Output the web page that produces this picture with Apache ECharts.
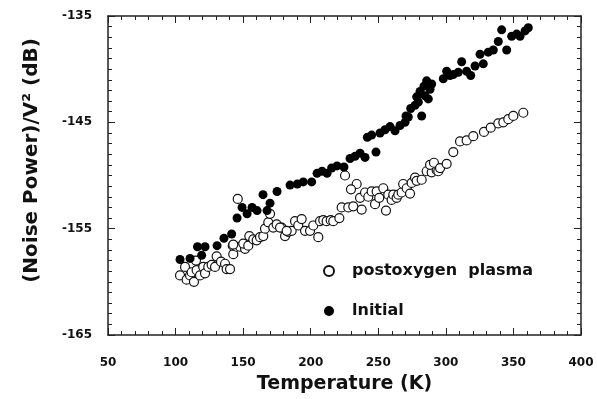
<!DOCTYPE html>
<html>
<head>
<meta charset="utf-8">
<script src="https://cdn.jsdelivr.net/npm/echarts@6/dist/echarts.min.js"></script>
<style>
  html, body { margin: 0; padding: 0; background: #fff; }
  #main { width: 597px; height: 399px; }
</style>
</head>
<body>
<div id="main"></div>
<script>
  // 数据：温度 (K) 与噪声功率 (dB)
  var initialT = [103.3,110.7,116.2,121.8,119.3,130.7,135.8,141.5,145.5,149.2,
    152.9,156.6,160.3,164.7,167.7,169.9,175.1,184.7,190.1,194.5,
    200.7,204.7,208.4,212.1,215.5,219.5,224.6,229.1,232.8,236.5,
    240.2,241.9,245.1,248.3,251.3,255.0,258.7,262.4,266.1,269.8,
    270.5,272.2,274.0,277.2,278.4,279.6,280.9,282.1,283.8,284.6,
    285.8,287.0,288.3,289.5,298.1,300.6,303.1,305.5,309.2,311.7,
    315.4,318.4,321.6,325.3,327.7,331.4,335.1,338.8,341.3,345.0,
    348.7,352.4,354.9,358.6,361.0];
  var initialDb = [-157.9,-157.8,-156.7,-156.7,-157.5,-156.6,-155.9,-155.5,-154.0,-153.0,
    -153.6,-153.0,-153.3,-151.8,-153.3,-152.6,-151.5,-150.9,-150.8,-150.6,
    -150.6,-149.8,-149.6,-149.8,-149.3,-149.1,-149.2,-148.4,-148.2,-147.9,
    -148.3,-146.4,-146.2,-147.8,-146.0,-145.7,-145.4,-145.8,-145.3,-145.0,
    -144.4,-144.5,-143.7,-143.4,-142.6,-143.1,-142.1,-144.4,-141.6,-142.5,
    -141.1,-142.8,-141.9,-141.4,-140.9,-140.2,-140.6,-140.5,-140.3,-139.3,
    -140.2,-140.6,-139.7,-138.6,-139.5,-138.4,-138.2,-137.4,-136.3,-138.2,
    -136.9,-136.7,-136.9,-136.4,-136.1];

  var postT = [103.3,107.0,108.2,110.7,113.6,111.9,115.1,115.6,118.1,120.5,
    121.8,124.2,126.7,130.4,129.2,133.6,136.6,137.8,140.3,142.7,
    142.3,145.2,147.7,151.4,150.1,154.6,153.8,157.5,160.0,162.5,
    164.9,166.2,168.6,169.9,172.3,174.8,178.5,181.0,183.4,185.9,
    188.4,190.8,193.3,195.8,199.5,201.9,205.6,206.9,209.3,211.8,
    214.8,216.7,221.2,222.9,227.8,231.5,237.7,234.0,229.8,225.4,
    236.5,240.2,242.6,245.1,247.6,248.8,250.7,253.7,255.7,257.4,
    259.9,261.1,263.6,264.8,267.3,268.4,271.0,273.5,274.7,277.2,
    278.4,282.1,285.8,289.5,293.2,288.3,291.2,294.4,295.7,300.6,
    305.5,310.5,315.4,320.3,328.2,333.2,338.8,342.5,346.2,349.9,
    357.3,146.0,142.7,177.3,182.2];
  var postDb = [-159.4,-158.6,-159.8,-159.4,-160.0,-159.1,-158.0,-158.9,-159.4,-158.6,
    -159.2,-158.6,-158.4,-157.6,-158.6,-158.1,-158.3,-158.8,-158.8,-157.4,
    -156.6,-156.7,-156.7,-156.9,-156.4,-155.7,-156.6,-156.0,-156.1,-155.8,
    -155.7,-155.0,-154.4,-153.6,-154.9,-154.6,-154.9,-155.7,-155.3,-155.2,
    -154.3,-154.7,-154.1,-155.2,-155.2,-154.7,-155.8,-154.3,-154.2,-154.3,
    -154.2,-154.3,-154.0,-153.0,-153.0,-152.9,-153.2,-150.8,-151.3,-150.0,
    -152.1,-151.6,-152.0,-151.5,-152.7,-151.5,-152.1,-151.2,-153.3,-151.8,
    -152.3,-151.8,-152.1,-151.8,-151.6,-150.8,-151.2,-151.7,-150.7,-150.2,
    -150.5,-150.4,-149.6,-149.7,-149.5,-149.0,-148.8,-149.6,-149.3,-148.9,
    -147.8,-146.8,-146.7,-146.3,-145.9,-145.5,-145.1,-145.0,-144.7,-144.4,
    -144.1,-152.2,-156.5,-154.9,-155.2];

  var seriesNames = ['postoxygen  plasma', 'lnitial'];
  var xTicks = [50, 400, 50];      // min, max, interval
  var yTicks = [-165, -135, 10];   // min, max, interval

  function zip(a, b) {
    return a.map(function (v, i) { return [v, b[i]]; });
  }

  var font = 'DejaVu Sans';
  var axisLine = { lineStyle: { color: '#222', width: 1.5 } };
  var axisTick = { inside: true, length: 7, lineStyle: { color: '#222', width: 1 } };

  var chart = echarts.init(document.getElementById('main'));
  chart.setOption({
    backgroundColor: '#fff',
    animation: false,
    grid: { left: 108, right: 16, top: 16, bottom: 60 },
    legend: {
      orient: 'vertical',
      left: 318,
      top: 258,
      itemGap: 24,
      itemWidth: 36,
      itemHeight: 10,
      icon: 'circle',
      textStyle: { fontFamily: font, fontWeight: 'bold', fontSize: 16, color: '#111' },
      data: seriesNames
    },
    xAxis: [{
      type: 'value',
      min: xTicks[0], max: xTicks[1], interval: xTicks[2],
      name: 'Temperature (K)',
      nameLocation: 'middle',
      nameGap: 40,
      nameTextStyle: { fontFamily: font, fontWeight: 'bold', fontSize: 19, color: '#111' },
      axisLine: axisLine,
      axisTick: axisTick,
      minorTick: { show: true, splitNumber: 5, length: 4, lineStyle: { color: '#222' } },
      splitLine: { show: false },
      axisLabel: { margin: 22, fontFamily: font, fontWeight: 'bold', fontSize: 12, color: '#111' }
    }, {
      type: 'value',
      position: 'top',
      min: xTicks[0], max: xTicks[1], interval: xTicks[2],
      axisLine: axisLine,
      axisTick: axisTick,
      minorTick: { show: true, splitNumber: 5, length: 4, lineStyle: { color: '#222' } },
      splitLine: { show: false },
      axisLabel: { show: false }
    }],
    yAxis: [{
      type: 'value',
      min: yTicks[0], max: yTicks[1], interval: yTicks[2],
      name: '(Noise Power)/V² (dB)',
      nameLocation: 'middle',
      nameGap: 66,
      nameTextStyle: { fontFamily: font, fontWeight: 'bold', fontSize: 20, color: '#111', padding: [0, 0, 0, 30] },
      axisLine: axisLine,
      axisTick: axisTick,
      minorTick: { show: true, splitNumber: 10, length: 4, lineStyle: { color: '#222' } },
      splitLine: { show: false },
      axisLabel: { margin: 16, fontFamily: font, fontWeight: 'bold', fontSize: 12, color: '#111' }
    }, {
      type: 'value',
      position: 'right',
      min: yTicks[0], max: yTicks[1], interval: yTicks[2],
      axisLine: axisLine,
      axisTick: axisTick,
      minorTick: { show: true, splitNumber: 10, length: 4, lineStyle: { color: '#222' } },
      splitLine: { show: false },
      axisLabel: { show: false }
    }],
    series: [{
      name: seriesNames[0],
      type: 'scatter',
      symbol: 'circle',
      symbolSize: 9,
      itemStyle: { color: '#fff', borderColor: '#111', borderWidth: 1.2, opacity: 1 },
      data: zip(postT, postDb)
    }, {
      name: seriesNames[1],
      type: 'scatter',
      symbol: 'circle',
      symbolSize: 9,
      itemStyle: { color: '#000', opacity: 1 },
      data: zip(initialT, initialDb)
    }]
  });
</script>
</body>
</html>
